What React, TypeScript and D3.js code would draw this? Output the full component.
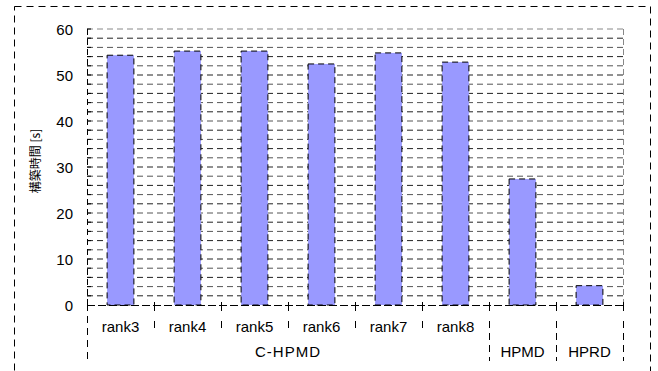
import React from "react";
import * as d3 from "d3";

const categories = ["rank3", "rank4", "rank5", "rank6", "rank7", "rank8", "HPMD", "HPRD"];
const values = [54.3, 55.2, 55.2, 52.4, 54.8, 52.8, 27.4, 4.2];
const groups = [
  { label: "C-HPMD", start: 0, end: 6 },
  { label: "HPMD", start: 6, end: 7 },
  { label: "HPRD", start: 7, end: 8 },
];
const yTicks = [0, 10, 20, 30, 40, 50, 60];
const gridValues = d3.range(2, 61, 2);
const yLabel = "構築時間 [s]";

const W = 658;
const H = 371;
const left = 87;
const right = 623;
const top = 29;
const bottom = 305;

export default function App() {
  const x = d3
    .scaleBand<string>()
    .domain(categories)
    .range([left, right])
    .paddingInner(0.6)
    .paddingOuter(0.3);
  const step = (right - left) / categories.length;
  const y = d3.scaleLinear().domain([0, 60]).range([bottom, top]);
  const font = "'Liberation Sans', Arial, sans-serif";

  return (
    <svg
      width={W}
      height={H}
      style={{ position: "absolute", left: 0, top: 0, background: "#fff" }}
    >
      {/* outer dashed border */}
      <rect
        x={14.5}
        y={6.5}
        width={636}
        height={380}
        fill="none"
        stroke="#000"
        strokeDasharray="7,5"
      />
      {/* gridlines */}
      {gridValues.map((v, i) => (
        <line
          key={v}
          x1={left}
          x2={right}
          y1={y(v)}
          y2={y(v)}
          stroke={v === 60 ? "#888" : i % 2 === 0 ? "#222" : "#555"}
          strokeDasharray="6,4"
        />
      ))}
      {/* plot border right */}
      <line x1={right + 0.5} x2={right + 0.5} y1={top} y2={bottom} stroke="#888" strokeDasharray="6,4" />
      {/* bars */}
      {categories.map((c, i) => (
        <rect
          key={c}
          x={x(c)}
          y={y(values[i])}
          width={x.bandwidth()}
          height={bottom - y(values[i])}
          fill="#9999FF"
          stroke="#000"
          strokeDasharray="6,4"
        />
      ))}
      {/* y axis */}
      <line x1={left + 0.5} x2={left + 0.5} y1={top} y2={bottom} stroke="#000" strokeDasharray="6,4" />
      {gridValues.map((v) => (
        <line key={"t" + v} x1={left} x2={left + 4} y1={y(v)} y2={y(v)} stroke="#000" />
      ))}
      {yTicks.map((v) => (
        <text
          key={"yl" + v}
          x={73}
          y={y(v) + 1}
          dy="0.35em"
          textAnchor="end"
          fontFamily={font}
          fontSize={15}
          fill="#000"
        >
          {v}
        </text>
      ))}
      {/* x axis line */}
      <line x1={left} x2={right} y1={bottom + 0.5} y2={bottom + 0.5} stroke="#000" strokeDasharray="8,3" />
      {d3.range(0, categories.length + 1).map((i) => (
        <line
          key={"xt" + i}
          x1={left + step * i + 0.5}
          x2={left + step * i + 0.5}
          y1={302}
          y2={311}
          stroke="#000"
        />
      ))}
      {/* category labels */}
      {categories.map((c, i) =>
        i < 6 ? (
          <text
            key={"xl" + c}
            x={(x(c) as number) + x.bandwidth() / 2}
            y={332}
            textAnchor="middle"
            fontFamily={font}
            fontSize={15}
            fill="#000"
          >
            {c}
          </text>
        ) : null
      )}
      {/* short separators between rank labels */}
      {d3.range(1, 6).map((i) => (
        <line
          key={"sep" + i}
          x1={left + step * i + 0.5}
          x2={left + step * i + 0.5}
          y1={321}
          y2={330}
          stroke="#000"
          strokeDasharray="7,4"
        />
      ))}
      {/* long separators */}
      {[0, 6, 7, 8].map((i) => (
        <line
          key={"lsep" + i}
          x1={left + step * i + 0.5}
          x2={left + step * i + 0.5}
          y1={i === 0 ? 316 : 321}
          y2={361}
          stroke="#000"
          strokeDasharray="7,5"
        />
      ))}
      {/* group labels */}
      {groups.map((g) => (
        <text
          key={g.label}
          x={left + step * ((g.start + g.end) / 2)}
          y={357}
          textAnchor="middle"
          fontFamily={font}
          fontSize={15}
          letterSpacing={g.label === "C-HPMD" ? 1 : 0}
          fill="#000"
        >
          {g.label}
        </text>
      ))}
      {/* y axis label */}
      <text
        transform={`translate(36,161) rotate(-90)`}
        textAnchor="middle"
        dy="0.35em"
        fontFamily="'Noto Sans CJK JP', 'Liberation Sans', sans-serif"
        fontSize={12}
        fill="#000"
      >
        {yLabel}
      </text>
    </svg>
  );
}
